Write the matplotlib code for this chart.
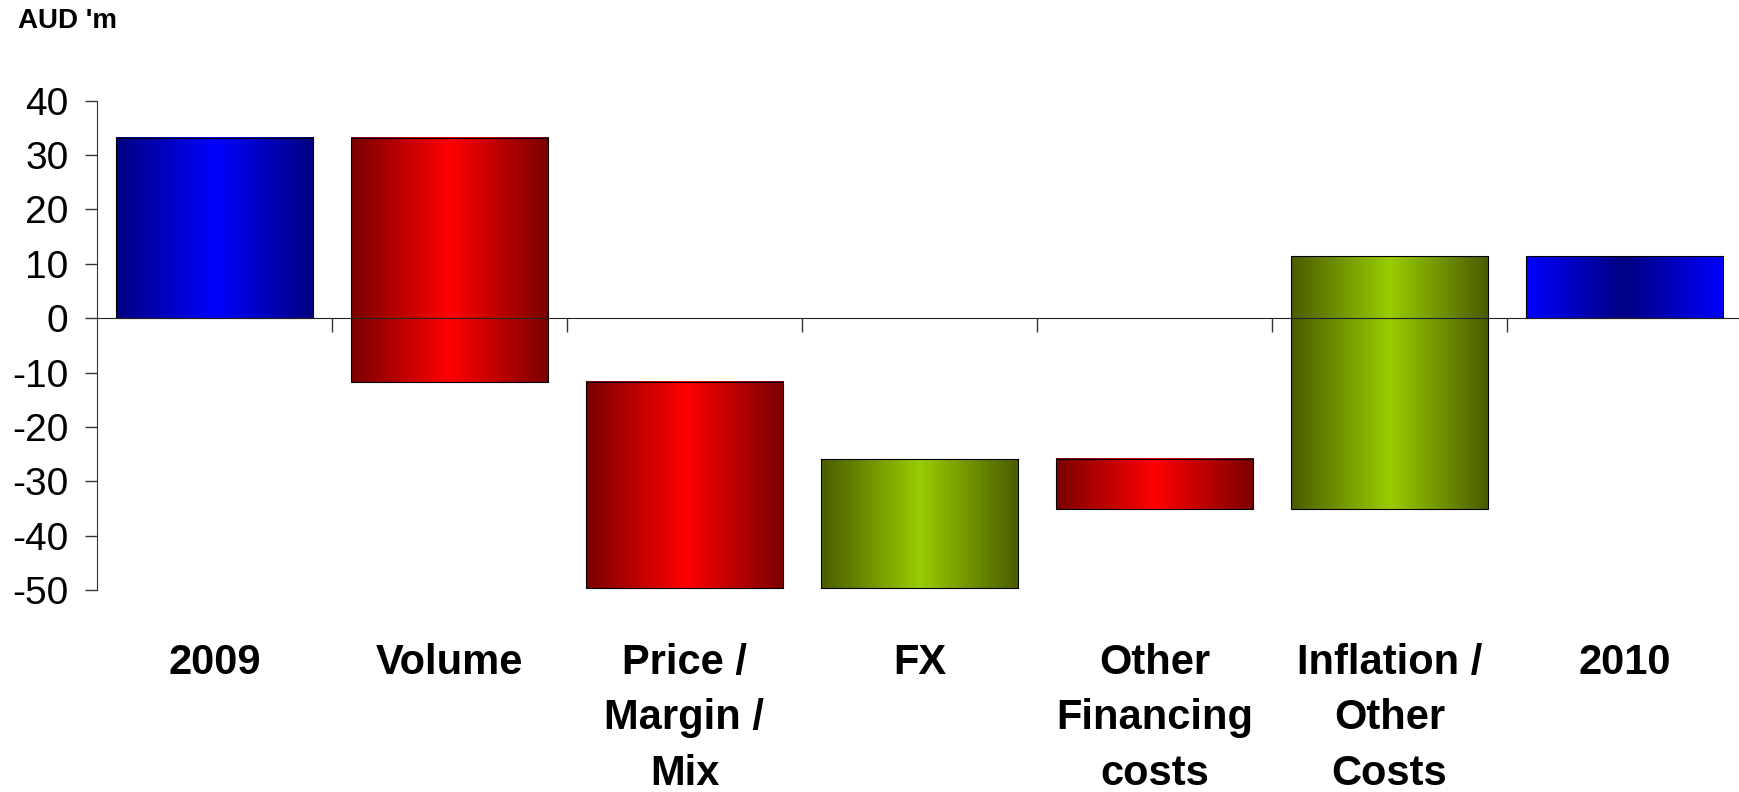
import matplotlib
matplotlib.use("Agg")
import matplotlib.pyplot as plt
import matplotlib.transforms as mtransforms
from matplotlib.colors import LinearSegmentedColormap
import numpy as np

# Profit bridge, AUD millions
categories = ["2009", "Volume", "Price /\nMargin /\nMix", "FX",
              "Other\nFinancing\ncosts", "Inflation /\nOther\nCosts", "2010"]
changes = [33.2, -44.9, -37.9, 23.7, -9.2, 46.5, 11.4]
kinds = ["start", "delta", "delta", "delta", "delta", "delta", "end"]
y_ticks = [40, 30, 20, 10, 0, -10, -20, -30, -40, -50]

# horizontal shading: edge colour -> centre colour -> edge colour
shades = {
    "start": LinearSegmentedColormap.from_list("start", ["#000080", "#0000ff", "#000080"]),
    "end": LinearSegmentedColormap.from_list("end", ["#0000ff", "#000080", "#0000ff"]),
    "down": LinearSegmentedColormap.from_list("down", ["#7a0000", "#ff0000", "#7a0000"]),
    "up": LinearSegmentedColormap.from_list("up", ["#4a5c00", "#99cc00", "#4a5c00"]),
}

bottoms, heights, looks = [], [], []
running = 0.0
for val, kind in zip(changes, kinds):
    if kind == "delta":
        bottoms.append(running if val >= 0 else running + val)
        heights.append(abs(val))
        looks.append("up" if val >= 0 else "down")
        running += val
    else:
        bottoms.append(0.0)
        heights.append(val)
        looks.append(kind)
        running = val

fig = plt.figure(figsize=(17.4, 7.92), dpi=100)
ax = fig.add_axes([97 / 1740, 202 / 792, 1645 / 1740, 489.3 / 792])

xs = np.arange(len(categories))
bars = ax.bar(xs, heights, bottom=bottoms, width=0.84, facecolor="none",
              edgecolor="black", linewidth=0.8, zorder=2)

grad = np.linspace(0, 1, 256).reshape(1, -1)
for patch, look in zip(bars.patches, looks):
    x0, y0 = patch.get_x(), patch.get_y()
    w, h = patch.get_width(), patch.get_height()
    ax.imshow(grad, extent=[x0, x0 + w, y0, y0 + h], aspect="auto",
              cmap=shades[look], interpolation="bilinear", zorder=1.5)

ax.set_xlim(-0.5, len(categories) - 0.5)
ax.set_ylim(-50, 40)
ax.set_yticks(y_ticks)
ax.set_yticklabels([str(t) for t in y_ticks], fontsize=28, family="Liberation Sans")
ax.tick_params(axis="y", length=8.6, width=1.0, color="#333333", pad=12)

# category separators hang from the zero line
ax.spines["bottom"].set_position(("data", 0))
ax.spines["bottom"].set_color("#222222")
ax.spines["left"].set_color("#333333")
ax.spines["top"].set_visible(False)
ax.spines["right"].set_visible(False)
ax.set_xticks(xs[:-1] + 0.5)
ax.set_xticklabels([])
ax.tick_params(axis="x", direction="out", length=10, width=1.0, color="#333333")

trans = mtransforms.blended_transform_factory(ax.transData, ax.transAxes)
for x, label in zip(xs, categories):
    ax.text(x, -0.108, label, transform=trans, ha="center", va="top",
            multialignment="center", fontsize=30, fontweight="bold",
            family="Liberation Sans", linespacing=1.5)

fig.text(18 / 1740, 1 - 8 / 792, "AUD 'm", ha="left", va="top",
         fontsize=20, fontweight="bold", family="Liberation Sans")

fig.savefig("out.png", dpi=100)
